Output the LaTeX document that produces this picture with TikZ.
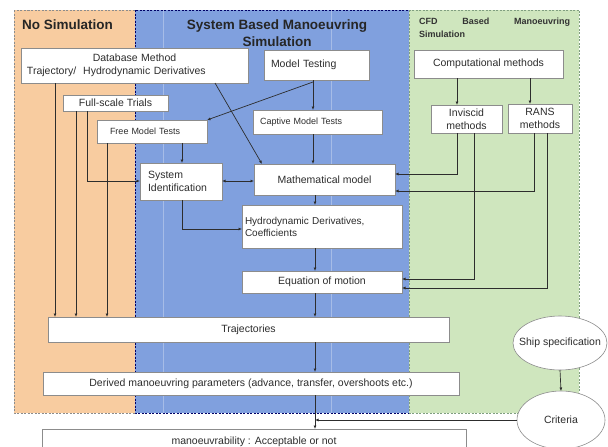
\documentclass[tikz,border=0pt]{standalone}
\usepackage{fontspec}
\setmainfont{Liberation Sans}
\usetikzlibrary{shapes.geometric,arrows.meta,shadows,calc}
\definecolor{orng}{RGB}{248,204,160}
\definecolor{blu}{RGB}{128,160,222}
\definecolor{grn}{RGB}{207,230,190}
\definecolor{ink}{RGB}{45,45,45}
\newcommand\fsz{\fontsize{10.5}{12.5}\selectfont}
\newcommand\fsm{\fontsize{9}{11}\selectfont}
\begin{document}
\begin{tikzpicture}[x=1pt,y=-1pt,
  box/.style={draw=black!45, fill=white, line width=0.6pt, inner sep=0pt, outer sep=0pt,
    anchor=north west, font=\fsz, text=ink,
    drop shadow={shadow xshift=1.2pt, shadow yshift=-1.2pt, fill=black!40, opacity=0.6}},
  oval/.style={ellipse, draw=black!45, fill=white, line width=0.6pt, inner sep=0pt, outer sep=0pt,
    font=\fsz, text=ink},
  arr/.style={draw=ink, line width=0.7pt, -{Latex[length=3.5pt,width=3pt]}},
  arrb/.style={draw=ink, line width=0.7pt, {Latex[length=3.5pt,width=3pt]}-{Latex[length=3.5pt,width=3pt]}},
  region/.style={line width=0.6pt, dash pattern=on 2pt off 1.5pt},
  title/.style={font=\bfseries\fontsize{13.5}{17}\selectfont, text=black!85, inner sep=0pt}
]
\useasboundingbox (0,0) rectangle (608,447);
\clip (0,0) rectangle (608,447);
\fill[white] (0,0) rectangle (608,447);

% regions
\fill[orng] (14,10) rectangle (135,413);
\draw[region, draw=black!45] (14,10) rectangle (135,413);
\fill[blu] (135,10) rectangle (409,413);
\draw[white, opacity=0.3, line width=0.8pt] (163,10) -- (163,413);
\draw[white, opacity=0.3, line width=0.8pt] (331,10) -- (331,413);
\draw[region, draw=blue!40!black] (135,10) rectangle (409,413);
\fill[grn] (409,10) rectangle (579,413);
\draw[region, draw=green!25!black!50] (409,10) rectangle (579,413);

% titles
\node[title, anchor=west] (tno) at (22,25) {No Simulation};
\node[title, align=center] (tsb) at (277,33) {System Based Manoeuvring\\Simulation};
\node[font=\bfseries\fontsize{9}{11}\selectfont, text width=151pt, align=left, inner sep=0pt,
  anchor=west, text=black!80] (tcfda) at (419,22) {CFD\hfill Based\hfill Manoeuvring};
\node[font=\bfseries\fontsize{9}{11}\selectfont, inner sep=0pt, anchor=west, text=black!80]
  (tcfdb) at (419,34) {Simulation};

% boxes
\node[box, minimum width=227pt, minimum height=35pt, text width=215pt, inner xsep=6pt, align=left]
  (db) at (21,48) {\hfill Database Method\hfill\null\\Trajectory/\ \ Hydrodynamic Derivatives};
\node[box, minimum width=105pt, minimum height=30pt, text width=91pt, inner xsep=7pt, align=left]
  (mt) at (264,50) {Model Testing};
\node[box, minimum width=149pt, minimum height=28pt] (cm) at (414,50) {Computational methods};
\node[box, minimum width=105pt, minimum height=16pt] (fs) at (63,95) {Full-scale Trials};
\node[box, minimum width=110pt, minimum height=23pt, text width=84pt, inner xsep=13pt, align=left, font=\fsm]
  (fmt) at (97,120) {Free Model Tests};
\node[box, minimum width=129pt, minimum height=24pt, text width=115pt, inner xsep=7pt, align=left, font=\fsm]
  (cmt) at (253,110) {Captive Model Tests};
\node[box, minimum width=71pt, minimum height=28pt, align=center] (inv) at (431,105) {Inviscid\\methods};
\node[box, minimum width=64pt, minimum height=29pt, align=center] (rans) at (508,104) {RANS\\methods};
\node[box, minimum width=82pt, minimum height=37pt, text width=66pt, inner xsep=8pt, align=left]
  (si) at (140,163) {System\\Identification};
\node[box, minimum width=141pt, minimum height=31pt] (mm) at (254,164) {Mathematical model};
\node[box, minimum width=160pt, minimum height=43pt, text width=154pt, inner xsep=3pt, align=left,
  font=\fontsize{10}{12}\selectfont] (hd) at (242,205) {Hydrodynamic Derivatives,\\Coefficients};
\node[box, minimum width=160pt, minimum height=22pt] (eom) at (242,271) {Equation of motion};
\node[box, minimum width=401pt, minimum height=25pt] (traj) at (48,317) {Trajectories};
\node[box, minimum width=416pt, minimum height=23pt] (der) at (43,372)
  {Derived manoeuvring parameters (advance, transfer, overshoots etc.)};
\node[box, minimum width=424pt, minimum height=26pt] (man) at (42,429) {manoeuvrability : Acceptable or not};
\node[oval, minimum width=94pt, minimum height=54pt,
  label={[font=\fsz, text=ink, inner sep=0pt]center:Ship specification}] (ship) at (560,343) {};
\node[oval, minimum width=88pt, minimum height=58pt] (crit) at (561,420) {Criteria};

% helper coordinates
\coordinate (x55) at (55,0);
\coordinate (x76) at (76,0);
\coordinate (x87) at (87,0);
\coordinate (x107) at (107,0);
\coordinate (x182) at (182,0);
\coordinate (x215) at (215,0);
\coordinate (x262) at (262,0);
\coordinate (x313) at (313,0);
\coordinate (x315) at (315,0);
\coordinate (x457) at (457,0);
\coordinate (x474) at (474,0);
\coordinate (x530) at (530,0);
\coordinate (x534) at (534,0);
\coordinate (x547) at (547,0);
\coordinate (y174) at (0,174);
\coordinate (y181) at (0,181);
\coordinate (y191) at (0,191);
\coordinate (y229) at (0,229);
\coordinate (y279) at (0,279);
\coordinate (y288) at (0,288);
\coordinate (mtj) at ($(mt.south -| x313)+(0,2)$);

% connectors
\draw[arr] (db.south -| x55) -- (traj.north -| x55);
\draw[arr] (fs.south -| x76) -- (traj.north -| x76);
\draw[arr] (fs.south -| x87) |- (si.west |- y181);
\draw[arr] (fmt.south -| x107) -- (traj.north -| x107);
\draw[arr] (fmt.south -| x182) -- (si.north -| x182);
\draw[arr] (db.south -| x215) -- (mm.north -| x262);
\draw[arr] (mt.south -| x313) -- (cmt.north -| x313);
\draw[arr] (mtj) -- (fmt.north east);
\draw[arr] (cmt.south -| x313) -- (mm.north -| x313);
\draw[arrb] (si.east |- y181) -- (mm.west |- y181);
\draw[arr] (si.south -| x182) |- (hd.west |- y229);
\draw[arr] (mm.south -| x315) -- (hd.north -| x315);
\draw[arr] (hd.south -| x315) -- (eom.north -| x315);
\draw[arr] (eom.south -| x315) -- (traj.north -| x315);
\draw[arr] (traj.south -| x315) -- (der.north -| x315);
\draw[arr] (der.south -| x315) -- (man.north -| x315);
\draw[arr] (crit.west) -- (crit.west -| x315);
\draw[arr] (ship.south) -- (crit.north);
\draw[arr] (cm.south -| x457) -- (inv.north -| x457);
\draw[arr] (cm.south -| x530) -- (rans.north -| x530);
\draw[arr] (inv.south -| x457) |- (mm.east |- y174);
\draw[arr] (inv.south -| x474) |- (eom.east |- y279);
\draw[arr] (rans.south -| x534) |- (mm.east |- y191);
\draw[arr] (rans.south -| x547) |- (eom.east |- y288);
\end{tikzpicture}
\end{document}
